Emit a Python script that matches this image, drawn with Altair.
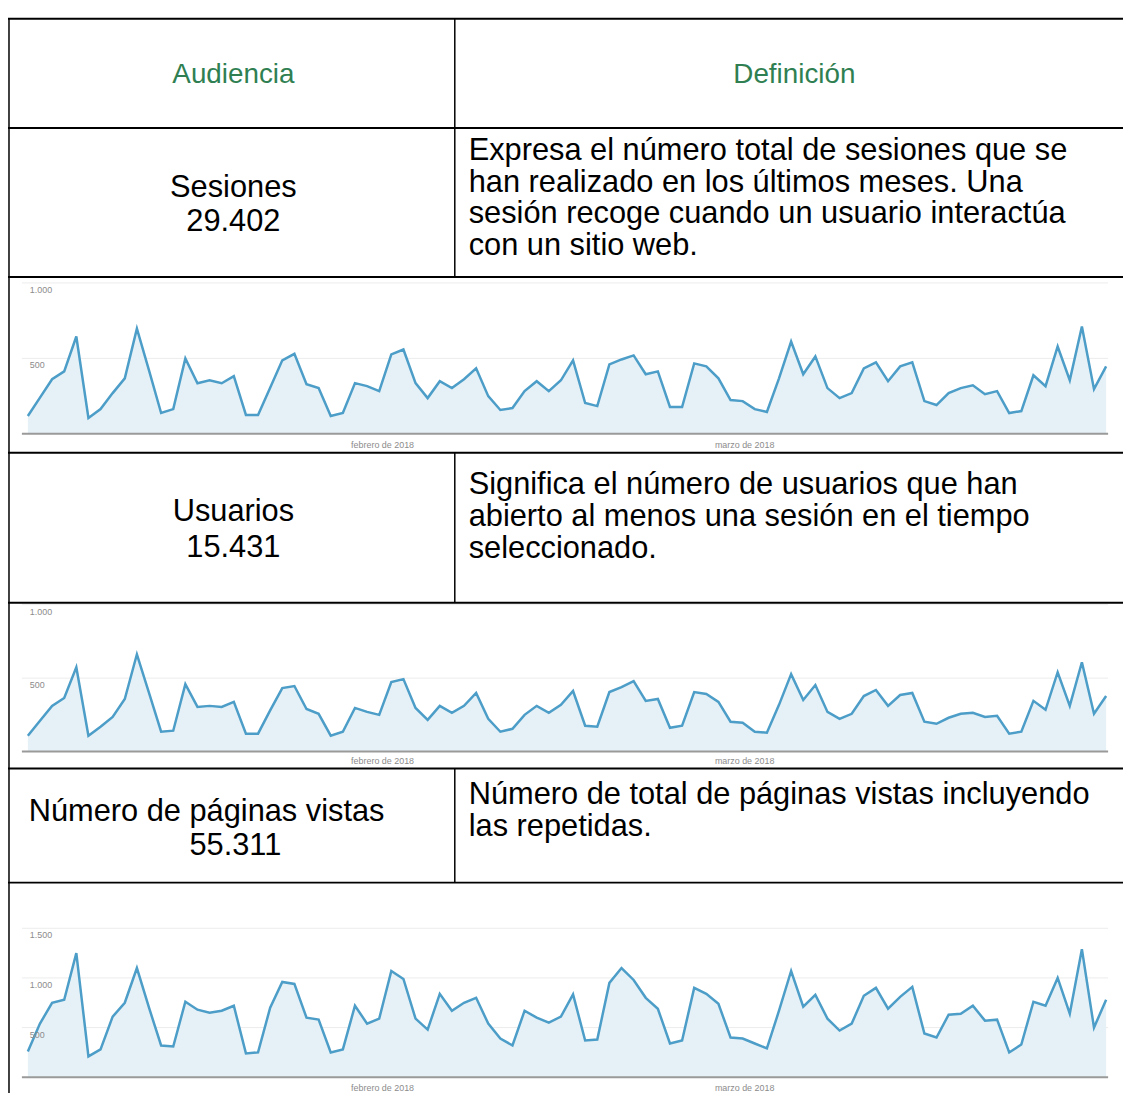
import altair as alt
import pandas as pd

# ---------------- data ----------------
fechas = pd.date_range("2018-01-01", "2018-03-31", freq="D").strftime("%Y-%m-%d").tolist()

sesiones = [118, 240, 362, 414, 645, 105, 164, 270, 368, 697,
            420, 138, 164, 500, 335, 355, 335, 382, 125, 125,
            305, 487, 530, 329, 303, 118, 138, 336, 316, 283,
            526, 559, 336, 237, 349, 303, 362, 434, 250, 158,
            171, 283, 349, 283, 355, 487, 204, 184, 460, 493,
            520, 395, 414, 178, 178, 467, 447, 368, 224, 217,
            164, 145, 368, 612, 395, 513, 303, 237, 270, 434,
            474, 349, 447, 474, 217, 191, 270, 303, 322, 263,
            283, 138, 151, 388, 316, 579, 355, 711, 296, 447]

usuarios = [108, 210, 311, 365, 574, 108, 169, 236, 358, 662,
            400, 135, 142, 459, 304, 311, 304, 338, 122, 122,
            280, 432, 446, 290, 257, 108, 135, 297, 270, 250,
            473, 493, 297, 216, 311, 264, 311, 399, 223, 135,
            155, 250, 311, 264, 318, 412, 176, 169, 405, 439,
            480, 345, 358, 162, 176, 405, 392, 338, 203, 196,
            135, 128, 318, 527, 351, 453, 270, 223, 257, 378,
            419, 311, 385, 399, 203, 189, 230, 257, 264, 236,
            243, 122, 135, 345, 284, 540, 311, 608, 257, 378]

paginas = [260, 540, 750, 780, 1250, 210, 280, 610, 750, 1100,
           700, 320, 310, 760, 680, 650, 670, 720, 240, 250,
           700, 960, 940, 600, 580, 250, 280, 720, 540, 590,
           1070, 990, 590, 480, 840, 670, 750, 800, 540, 390,
           320, 670, 600, 550, 610, 835, 370, 380, 950, 1100,
           980, 800, 690, 340, 370, 900, 840, 740, 400, 390,
           340, 290, 670, 1070, 710, 830, 590, 470, 540, 820,
           900, 690, 810, 910, 440, 400, 630, 640, 720, 570,
           580, 250, 330, 760, 720, 1000, 640, 1290, 500, 780]

cabeceras = ["Audiencia", "Definición"]
metricas = [["Sesiones", "29.402"],
            ["Usuarios", "15.431"],
            ["Número de páginas vistas", "55.311"]]
definiciones = [
    ["Expresa el número total de sesiones que se",
     "han realizado en los últimos meses. Una",
     "sesión recoge cuando un usuario interactúa",
     "con un sitio web."],
    ["Significa el número de usuarios que han",
     "abierto al menos una sesión en el tiempo",
     "seleccionado."],
    ["Número de total de páginas vistas incluyendo",
     "las repetidas."],
]
meses = ["febrero de 2018", "marzo de 2018"]
inicio_mes = ["2018-02-01", "2018-03-01"]
ticks_a = [500, 1000]
etiquetas_a = ["500", "1.000"]
ticks_b = [500, 1000, 1500]
etiquetas_b = ["500", "1.000", "1.500"]

# ---------------- style ----------------
W, H = 1123, 1089
LINE = "#4c9dc7"
FILL = "#e6f1f7"
GREEN = "#2f7f52"
FONT = "Liberation Sans"
X0, X1 = 20, 1106
one = pd.DataFrame({"k": [0]})


def sparkline(valores, dominio, rango, ticks, etiquetas, y_meses):
    df = pd.DataFrame({"dia": list(range(len(fechas))), "fecha": fechas, "valor": valores})
    xs = alt.Scale(domain=[0, len(fechas) - 1], range=[X0, X1], nice=False, zero=False)
    ys = alt.Scale(domain=dominio, range=rango, nice=False, zero=False)
    X = alt.X("dia:Q", scale=xs, axis=None)
    Y = alt.Y("valor:Q", scale=ys, axis=None)
    tdf = pd.DataFrame({"valor": ticks, "etiqueta": etiquetas})
    grid = alt.Chart(tdf).mark_rule(color="#ececec", strokeWidth=1).encode(
        y=Y, x=alt.value(14), x2=alt.value(1108))
    area = alt.Chart(df).mark_area(color=FILL, opacity=1).encode(x=X, y=Y)
    linea = alt.Chart(df).mark_line(color=LINE, strokeWidth=2.5).encode(x=X, y=Y)
    base = alt.Chart(pd.DataFrame({"valor": [0]})).mark_rule(color="#9a9a9a", strokeWidth=2).encode(
        y=Y, x=alt.value(14), x2=alt.value(1108))
    lab = alt.Chart(tdf).mark_text(align="left", baseline="middle", dy=7, font=FONT,
                                   fontSize=9, color="#8c8c8c").encode(
        y=Y, x=alt.value(22), text="etiqueta:N")
    capas = [grid, area, linea, base, lab]
    for d, m, off in zip(inicio_mes, meses, [-21, 2]):
        mdf = pd.DataFrame({"dia": [fechas.index(d)], "mes": [m]})
        capas.append(alt.Chart(mdf).mark_text(align="center", baseline="middle", dx=off,
                                              font=FONT, fontSize=9, color="#8c8c8c").encode(
            x=X, y=alt.value(y_meses), text="mes:N"))
    return alt.layer(*capas)


def hline(y, w=2):
    return alt.Chart(one).mark_rule(color="black", strokeWidth=w).encode(
        x=alt.value(0), x2=alt.value(W), y=alt.value(y))


def vline(x, y1, y2, w=1.5):
    return alt.Chart(one).mark_rule(color="black", strokeWidth=w).encode(
        x=alt.value(x), y=alt.value(y1), y2=alt.value(y2))


def texto(lines, x, y, size=31, color="black", align="center", lh=32):
    return alt.Chart(one).mark_text(font=FONT, fontSize=size, color=color, align=align,
                                    baseline="middle", lineHeight=lh).encode(
        x=alt.value(x), y=alt.value(y), text=alt.value(lines))


spark1 = sparkline(sesiones, [0, 1000], [425, 273], ticks_a, etiquetas_a, 436)
spark2 = sparkline(usuarios, [0, 1000], [745, 597], ticks_a, etiquetas_a, 755)
spark3 = sparkline(paginas, [0, 1500], [1073, 923], ticks_b, etiquetas_b, 1084)

bordes = [hline(y) for y in [7, 117, 267, 444, 595, 762, 877]]
bordes += [vline(1, 7, H), vline(450, 7, 267), vline(450, 444, 595), vline(450, 762, 877)]

textos = [
    texto(cabeceras[0], 227, 64, size=28, color=GREEN),
    texto(cabeceras[1], 792, 64, size=28, color=GREEN),
    texto(metricas[0], 227, 177, lh=35),
    texto(metricas[1], 227, 504, lh=36),
    texto(metricas[2][0], 200, 806),
    texto(metricas[2][1], 229, 840),
    texto(definiciones[0], 464, 140, align="left"),
    texto(definiciones[1], 464, 477, align="left"),
    texto(definiciones[2], 464, 789, align="left"),
]

chart = alt.layer(spark1, spark2, spark3, *bordes, *textos).resolve_scale(
    x="independent", y="independent"
).properties(
    width=W, height=H, padding=0, autosize=alt.AutoSizeParams(type="none")
).configure_view(strokeWidth=0)

chart.save("out.html", embed_options={"renderer": "svg", "actions": False})
